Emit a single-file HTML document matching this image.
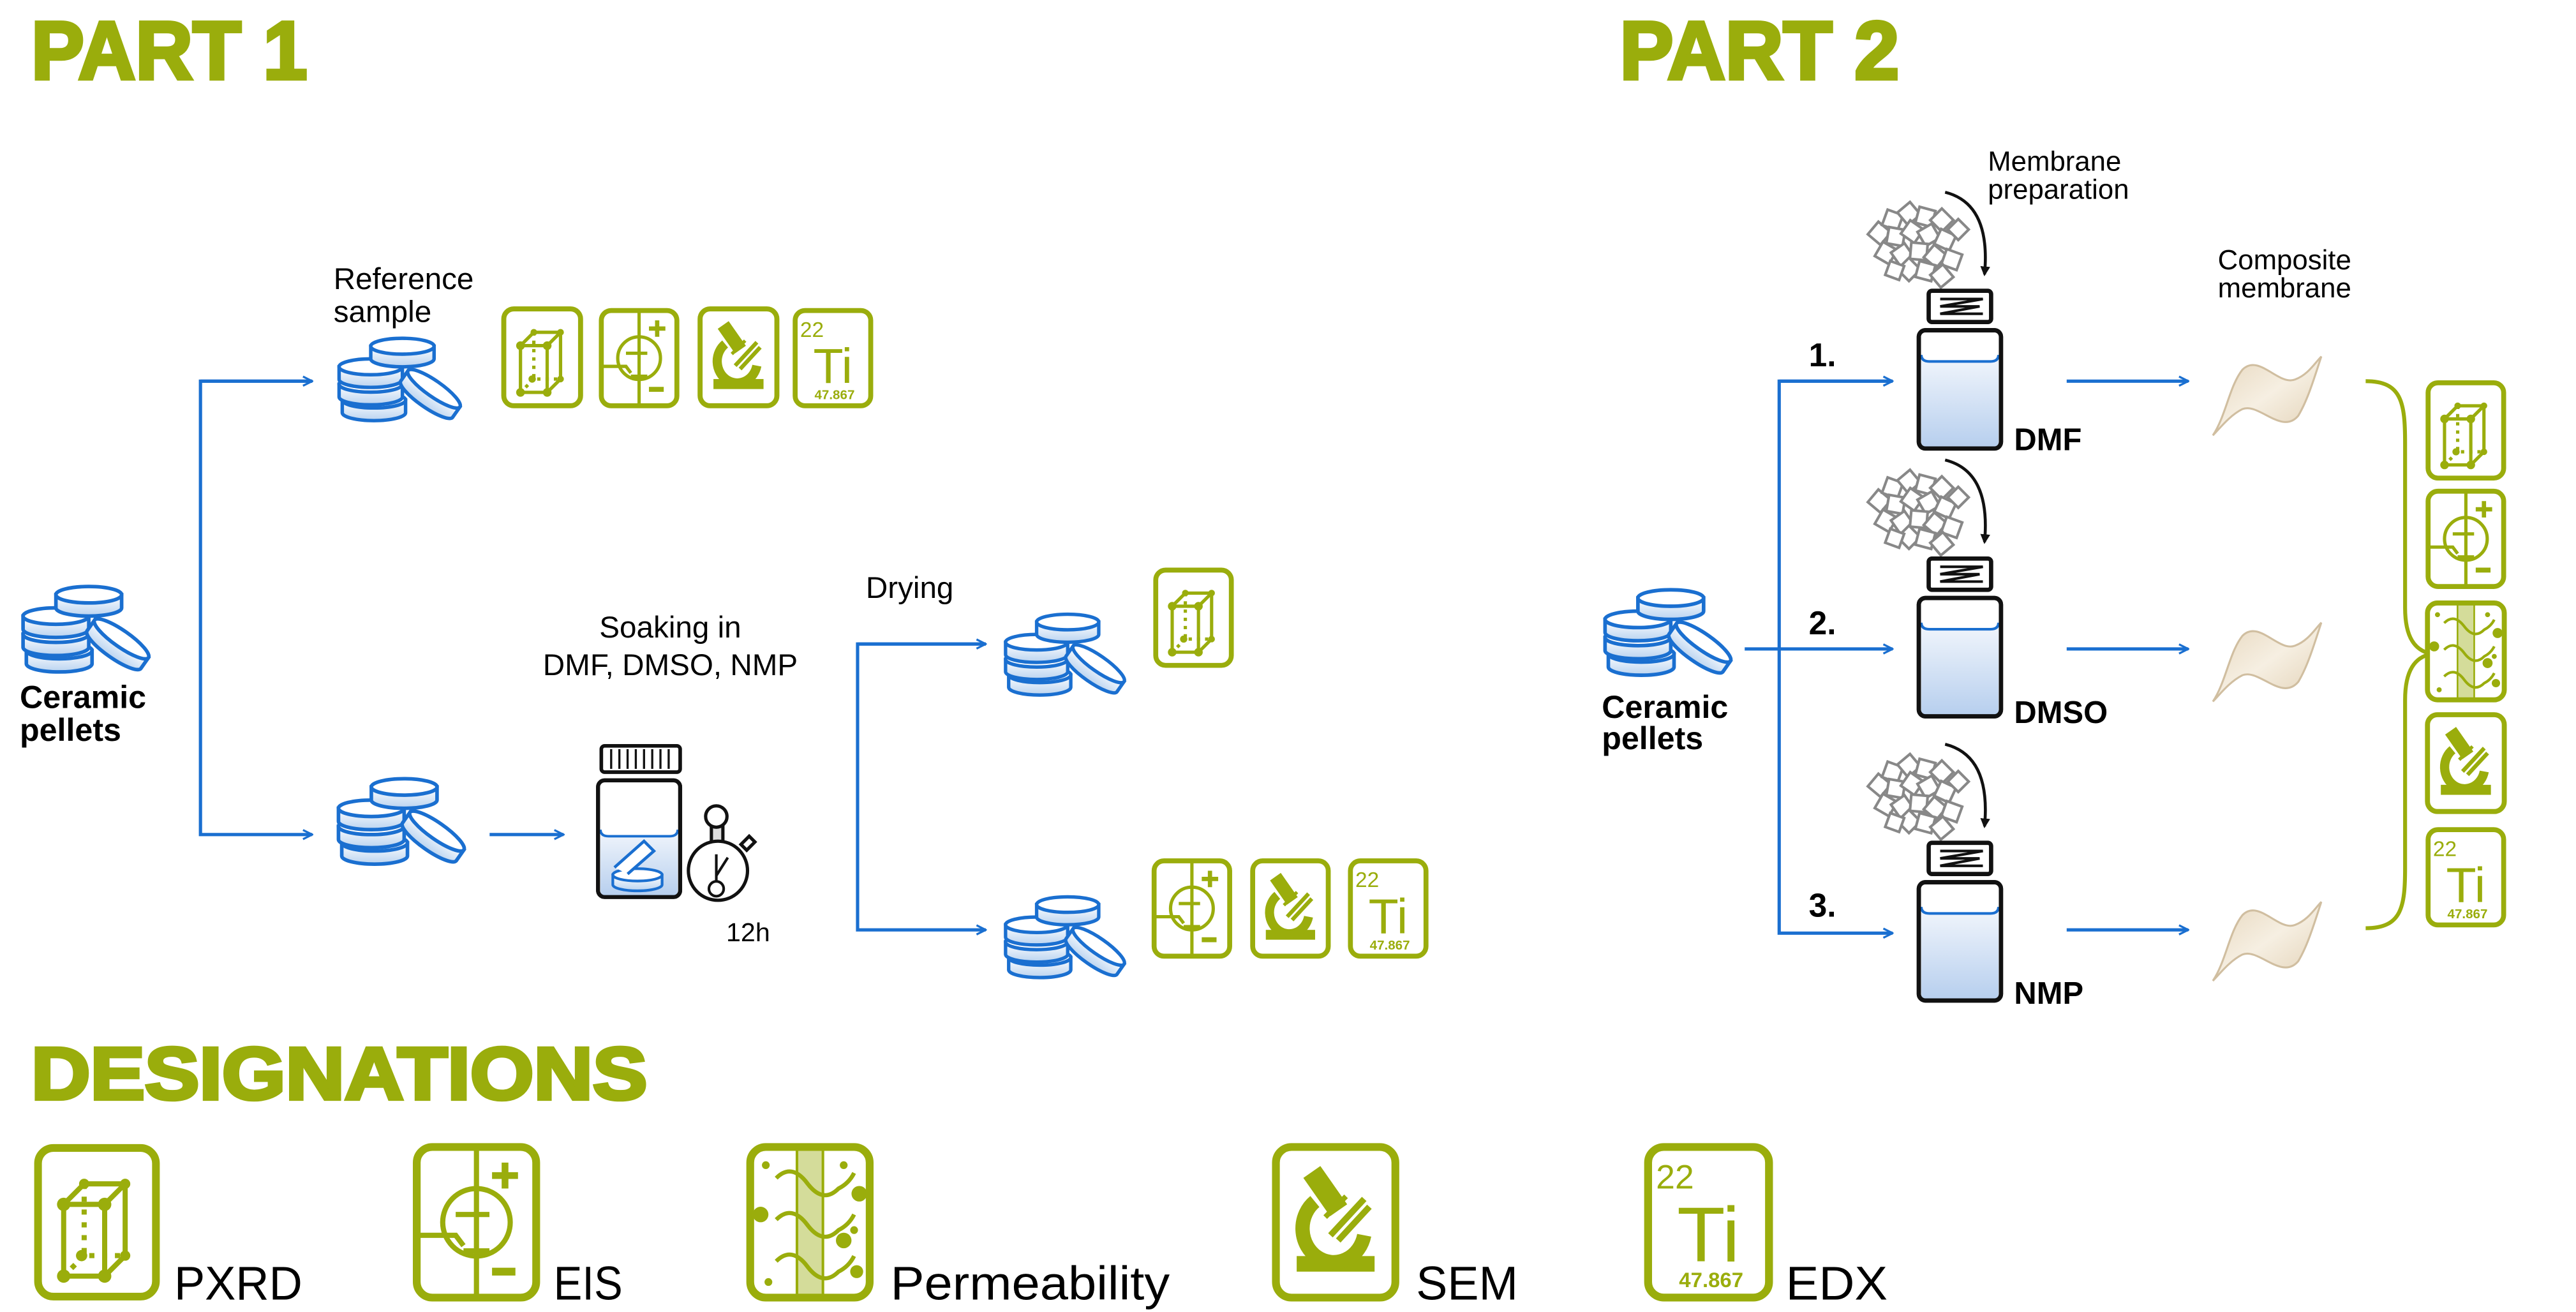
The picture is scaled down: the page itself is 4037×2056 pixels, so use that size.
<!DOCTYPE html>
<html><head><meta charset="utf-8"><style>
html,body{margin:0;padding:0;background:#fff;}
svg{display:block;}
text{font-family:"Liberation Sans",sans-serif;}
</style></head><body>
<svg width="4037" height="2056" viewBox="0 0 1568 798.6" xmlns="http://www.w3.org/2000/svg">
<defs>
<linearGradient id="bg" x1="0" y1="0" x2="0" y2="1"><stop offset="0" stop-color="#ffffff"/><stop offset="1" stop-color="#b9d3f0"/></linearGradient>
<linearGradient id="liq" x1="0" y1="0" x2="0" y2="1"><stop offset="0" stop-color="#f2f6fc"/><stop offset="1" stop-color="#b7cfee"/></linearGradient>
<linearGradient id="mem" x1="0" y1="0" x2="1" y2="1"><stop offset="0" stop-color="#e6d6bc"/><stop offset="0.5" stop-color="#f6efe2"/><stop offset="1" stop-color="#e2d1b5"/></linearGradient>
<marker id="ah" viewBox="0 0 10 10" refX="9" refY="5" markerWidth="7" markerHeight="7" orient="auto" markerUnits="userSpaceOnUse"><path d="M1,1 L9,5 L1,9" fill="none" stroke="#1a6fd0" stroke-width="1.8"/></marker>
<marker id="ahk" viewBox="0 0 10 10" refX="8" refY="5" markerWidth="6" markerHeight="6" orient="auto" markerUnits="userSpaceOnUse"><path d="M0,0 L10,5 L0,10 z" fill="#111"/></marker>
<symbol id="disk" viewBox="0 0 44 20" overflow="visible"><path d="M2,6 v8 a20,5 0 0 0 40,0 v-8 z" fill="url(#bg)" stroke="#1a6fd0" stroke-width="2.2"/><ellipse cx="22" cy="6" rx="20" ry="5" fill="#fff" stroke="#1a6fd0" stroke-width="2.2"/></symbol>
<symbol id="pel" viewBox="0 0 80 55" overflow="visible">
<use href="#disk" x="2" y="35" width="44" height="20"/>
<use href="#disk" x="0" y="25" width="44" height="20"/>
<use href="#disk" x="0" y="14" width="44" height="20"/>
<use href="#disk" x="20" y="1" width="44" height="20"/>
<g transform="rotate(35 58 36)"><use href="#disk" x="38" y="26" width="44" height="20"/></g>
</symbol>
<symbol id="frame" viewBox="0 0 50 62" overflow="visible"><rect x="2" y="2" width="46" height="58" rx="6" fill="#fff" stroke="#9aad0c" stroke-width="3"/></symbol>
<symbol id="pxrd" viewBox="0 0 50 62" overflow="visible"><use href="#frame" width="50" height="62"/>
<g stroke="#9aad0c" stroke-width="2" fill="none"><path d="M12,24 H28 V52 H12 Z M20,16 H36 V44 M12,24 L20,16 M28,24 L36,16 M28,52 L36,44"/><path d="M20,16 V44 H36 M20,44 L12,52" stroke-dasharray="2 3"/></g>
<g fill="#9aad0c"><circle cx="12" cy="24" r="2.6"/><circle cx="28" cy="24" r="2.6"/><circle cx="12" cy="52" r="2.6"/><circle cx="28" cy="52" r="2.6"/><circle cx="20" cy="16" r="2"/><circle cx="36" cy="16" r="2"/><circle cx="36" cy="44" r="2"/><circle cx="19" cy="44" r="2.2"/></g></symbol>
<symbol id="eis" viewBox="0 0 50 62" overflow="visible"><use href="#frame" width="50" height="62"/>
<g stroke="#9aad0c" stroke-width="2" fill="none"><line x1="25" y1="3" x2="25" y2="59"/><circle cx="25" cy="31" r="13"/><path d="M3,36 H17 L20,40"/><line x1="17" y1="28" x2="30" y2="28"/><line x1="20" y1="42" x2="30" y2="42"/><line x1="36" y1="8" x2="36" y2="18" stroke-width="2.6"/><line x1="31" y1="13" x2="41" y2="13" stroke-width="2.6"/><line x1="31" y1="50" x2="40" y2="50" stroke-width="3"/></g></symbol>
<symbol id="perm" viewBox="0 0 50 62" overflow="visible"><use href="#frame" width="50" height="62"/>
<rect x="20" y="3" width="10" height="56" fill="#d4dc9a" stroke="#9aad0c" stroke-width="1"/>
<g stroke="#9aad0c" stroke-width="1.6" fill="none"><path d="M12,14 q6,-6 12,2 t12,2 q4,-2 6,-6"/><path d="M12,30 q6,-6 12,2 t12,2 q4,-2 6,-6"/><path d="M12,46 q6,-6 12,2 t12,2 q4,-2 6,-6"/></g>
<g fill="#9aad0c"><circle cx="6" cy="28" r="3"/><circle cx="44" cy="20" r="3"/><circle cx="38" cy="38" r="3"/><circle cx="43" cy="50" r="2.5"/><circle cx="8" cy="9" r="1.5"/><circle cx="9" cy="54" r="1.5"/><circle cx="38" cy="9" r="1.5"/><circle cx="42" cy="34" r="1.5"/></g></symbol>
<symbol id="sem" viewBox="0 0 50 62" overflow="visible"><use href="#frame" width="50" height="62"/>
<g fill="#9aad0c"><rect x="10" y="44" width="30" height="6"/><rect x="17" y="10" width="8" height="18" transform="rotate(-35 21 19)"/></g>
<g stroke="#9aad0c" fill="none"><path d="M17,23 A12,13 0 1 0 36,36" stroke-width="5.5"/><line x1="23" y1="36" x2="36" y2="22" stroke-width="2.4"/><line x1="26" y1="38" x2="38" y2="25" stroke-width="2.4"/><line x1="21" y1="29" x2="29" y2="21" stroke-width="2"/></g></symbol>
<symbol id="gran" viewBox="0 0 70 50" overflow="visible"><g fill="#fff" stroke="#888" stroke-width="1.6">
<rect x="3" y="13" width="10" height="10" transform="rotate(40 8 18)"/><rect x="11" y="5" width="10" height="10" transform="rotate(20 16 10)"/><rect x="21" y="1" width="10" height="10" transform="rotate(50 26 6)"/><rect x="31" y="3" width="10" height="10" transform="rotate(15 36 8)"/><rect x="41" y="5" width="10" height="10" transform="rotate(45 46 10)"/>
<rect x="13" y="15" width="10" height="10" transform="rotate(10 18 20)"/><rect x="23" y="12" width="10" height="10" transform="rotate(35 28 17)"/><rect x="33" y="14" width="10" height="10" transform="rotate(60 38 19)"/><rect x="43" y="17" width="10" height="10" transform="rotate(25 48 22)"/><rect x="52" y="11" width="9" height="9" transform="rotate(45 56 15)"/>
<rect x="7" y="25" width="10" height="10" transform="rotate(30 12 30)"/><rect x="17" y="26" width="10" height="10" transform="rotate(55 22 31)"/><rect x="27" y="24" width="10" height="10" transform="rotate(5 32 29)"/><rect x="37" y="27" width="10" height="10" transform="rotate(40 42 32)"/><rect x="47" y="29" width="10" height="10" transform="rotate(20 52 34)"/>
<rect x="21" y="35" width="10" height="10" transform="rotate(45 26 40)"/><rect x="31" y="36" width="10" height="10" transform="rotate(15 36 41)"/><rect x="41" y="39" width="10" height="10" transform="rotate(50 46 44)"/><rect x="13" y="36" width="9" height="9" transform="rotate(20 17 40)"/></g></symbol>
<symbol id="jar2" viewBox="0 0 52 98" overflow="visible">
<rect x="7" y="0" width="38" height="19" rx="2" fill="#fff" stroke="#111" stroke-width="2.6"/>
<path d="M14,5 H40 L14,9.5 H38 L14,14 H40" fill="none" stroke="#111" stroke-width="1.6"/>
<rect x="1" y="24" width="50" height="72" rx="4" fill="#fff" stroke="#111" stroke-width="2.6"/>
<path d="M2.5,39 q0,4 5,4 h37 q5,0 5,-4 V92 q0,3 -3,3 H5.5 q-3,0 -3,-3 z" fill="url(#liq)"/>
<path d="M2.5,39 q0,4 5,4 h37 q5,0 5,-4" fill="none" stroke="#1a6fd0" stroke-width="1.6"/>
<rect x="1" y="24" width="50" height="72" rx="4" fill="none" stroke="#111" stroke-width="2.6"/></symbol>
<symbol id="memb" viewBox="0 0 70 55" overflow="visible"><path d="M2,52 C10,40 12,22 20,12 C30,2 42,22 52,18 C60,15 64,8 68,4 C64,16 60,30 54,40 C44,52 30,32 20,36 C12,40 6,48 2,52 Z" fill="url(#mem)" stroke="#d0bea0" stroke-width="1.2"/></symbol>
</defs>

<!-- Headers -->
<g fill="#9aad0c" stroke="#9aad0c" stroke-width="2.2" font-weight="bold" font-family="Liberation Sans,sans-serif">
<text x="19" y="48" font-size="50" textLength="168" lengthAdjust="spacingAndGlyphs">PART 1</text>
<text x="986" y="48" font-size="50" textLength="170" lengthAdjust="spacingAndGlyphs">PART 2</text>
<text x="19" y="669" font-size="45" textLength="375" lengthAdjust="spacingAndGlyphs">DESIGNATIONS</text>
</g>

<!-- PART 1 -->
<use href="#pel" x="12" y="355" width="80" height="55"/>
<text x="12" y="431" font-size="19.5" font-weight="bold">Ceramic</text>
<text x="12" y="451" font-size="19.5" font-weight="bold">pellets</text>
<g stroke="#1a6fd0" stroke-width="2" fill="none">
<path d="M190,232 H122 V508 H190" marker-end="url(#ah)"/>
<path d="M122,232 H190" marker-end="url(#ah)"/>
<path d="M298,508 H343" marker-end="url(#ah)"/>
<path d="M600,392 H522 V566 H600" marker-end="url(#ah)"/>
<path d="M522,392 H600" marker-end="url(#ah)"/>
</g>
<text x="203" y="176" font-size="18.5">Reference</text>
<text x="203" y="196" font-size="18.5">sample</text>
<use href="#pel" x="204" y="204" width="78" height="53"/>
<use href="#pxrd" x="304" y="186" width="52" height="63"/>
<use href="#eis" x="364" y="187" width="50" height="62"/>
<use href="#sem" x="424" y="186" width="51" height="63"/>
<g transform="translate(482,187)"><use href="#frame" width="50" height="62"/><text x="5" y="18" font-size="13" fill="#9aad0c">22</text><text x="13" y="46" font-size="30" fill="#9aad0c">Ti</text><text x="26" y="56" font-size="8" fill="#9aad0c" font-weight="bold" text-anchor="middle">47.867</text></g>
<use href="#pel" x="204" y="472" width="80" height="55"/>
<text x="408" y="388" font-size="18.5" text-anchor="middle">Soaking in</text>
<text x="408" y="411" font-size="18.5" text-anchor="middle">DMF, DMSO, NMP</text>
<!-- soaking jar -->
<rect x="366" y="454" width="48" height="16" rx="2" fill="#fff" stroke="#111" stroke-width="2.2"/>
<g stroke="#111" stroke-width="1.3"><line x1="372" y1="456" x2="372" y2="468"/><line x1="377" y1="456" x2="377" y2="468"/><line x1="382" y1="456" x2="382" y2="468"/><line x1="387" y1="456" x2="387" y2="468"/><line x1="392" y1="456" x2="392" y2="468"/><line x1="397" y1="456" x2="397" y2="468"/><line x1="402" y1="456" x2="402" y2="468"/><line x1="407" y1="456" x2="407" y2="468"/></g>
<rect x="364" y="475" width="50" height="71" rx="4" fill="#fff" stroke="#111" stroke-width="2.4"/>
<path d="M365.5,505 q0,4 5,4 h37 q5,0 5,-4 V542 q0,3 -3,3 H368.5 q-3,0 -3,-3 z" fill="url(#liq)"/>
<path d="M365.5,505 q0,4 5,4 h37 q5,0 5,-4" fill="none" stroke="#1a6fd0" stroke-width="1.5"/>
<rect x="364" y="475" width="50" height="71" rx="4" fill="none" stroke="#111" stroke-width="2.4"/>
<use href="#disk" x="370" y="528" width="36" height="15"/>
<path d="M374,528 L392,512 L398,518 L382,532" fill="#fff" stroke="#1a6fd0" stroke-width="1.8"/>
<!-- stopwatch -->
<g stroke="#111" stroke-width="2" fill="#fff"><rect x="433" y="501" width="7" height="12" fill="#ddd"/><circle cx="436" cy="497" r="6.5"/><path d="M451,514 l5,-5 3.5,3.5 -5,5z"/><circle cx="437" cy="530" r="18"/></g>
<g stroke="#111" stroke-width="1.6" fill="none"><circle cx="436" cy="541" r="4.5"/><line x1="436" y1="536" x2="436" y2="520"/><line x1="436" y1="533" x2="443" y2="522"/></g>
<text x="442" y="573" font-size="16">12h</text>
<text x="527" y="364" font-size="18.5">Drying</text>
<use href="#pel" x="610" y="372" width="76" height="52"/>
<use href="#pxrd" x="701" y="345" width="51" height="62"/>
<use href="#pel" x="610" y="544" width="76" height="52"/>
<use href="#eis" x="700" y="522" width="51" height="62"/>
<use href="#sem" x="760" y="522" width="51" height="62"/>
<g transform="translate(820,522)"><use href="#frame" width="50" height="62"/><text x="5" y="18" font-size="13" fill="#9aad0c">22</text><text x="13" y="46" font-size="30" fill="#9aad0c">Ti</text><text x="26" y="56" font-size="8" fill="#9aad0c" font-weight="bold" text-anchor="middle">47.867</text></g>

<!-- PART 2 -->
<use href="#pel" x="975" y="357" width="80" height="55"/>
<text x="975" y="437" font-size="19.5" font-weight="bold">Ceramic</text>
<text x="975" y="456" font-size="19.5" font-weight="bold">pellets</text>
<g stroke="#1a6fd0" stroke-width="2" fill="none">
<path d="M1152,232 H1083 V568 H1152" marker-end="url(#ah)"/>
<path d="M1083,232 H1152" marker-end="url(#ah)"/>
<path d="M1062,395 H1152" marker-end="url(#ah)"/>
<path d="M1258,232 H1332" marker-end="url(#ah)"/>
<path d="M1258,395 H1332" marker-end="url(#ah)"/>
<path d="M1258,566 H1332" marker-end="url(#ah)"/>
</g>
<text x="1101" y="223" font-size="20" font-weight="bold">1.</text>
<text x="1101" y="386" font-size="20" font-weight="bold">2.</text>
<text x="1101" y="558" font-size="20" font-weight="bold">3.</text>
<text x="1210" y="104" font-size="17">Membrane</text>
<text x="1210" y="121" font-size="17">preparation</text>
<text x="1350" y="164" font-size="17">Composite</text>
<text x="1350" y="181" font-size="17">membrane</text>
<g>
<use href="#gran" x="1136" y="124" width="70" height="50"/>
<use href="#jar2" x="1167" y="177" width="52" height="98"/>
<path d="M1184,117 Q1212,124 1208,167" fill="none" stroke="#111" stroke-width="1.8" marker-end="url(#ahk)"/>
<text x="1226" y="274" font-size="19" font-weight="bold">DMF</text>
<use href="#gran" x="1136" y="287" width="70" height="50"/>
<use href="#jar2" x="1167" y="340" width="52" height="98"/>
<path d="M1184,280 Q1212,287 1208,330" fill="none" stroke="#111" stroke-width="1.8" marker-end="url(#ahk)"/>
<text x="1226" y="440" font-size="19" font-weight="bold">DMSO</text>
<use href="#gran" x="1136" y="460" width="70" height="50"/>
<use href="#jar2" x="1167" y="513" width="52" height="98"/>
<path d="M1184,453 Q1212,460 1208,503" fill="none" stroke="#111" stroke-width="1.8" marker-end="url(#ahk)"/>
<text x="1226" y="611" font-size="19" font-weight="bold">NMP</text>
</g>
<use href="#memb" x="1345" y="213" width="70" height="55"/>
<use href="#memb" x="1345" y="375" width="70" height="55"/>
<use href="#memb" x="1345" y="545" width="70" height="55"/>
<path d="M1440,232 C1462,232 1464,245 1464,270 V370 C1464,388 1470,396 1480,398 C1470,400 1464,408 1464,426 V528 C1464,552 1462,565 1440,565" fill="none" stroke="#9aad0c" stroke-width="2.4"/>
<use href="#pxrd" x="1475" y="231" width="52" height="62"/>
<use href="#eis" x="1475" y="297" width="52" height="62"/>
<use href="#perm" x="1475" y="365" width="52" height="63"/>
<use href="#sem" x="1475" y="433" width="52" height="63"/>
<g transform="translate(1476,503)"><use href="#frame" width="50" height="62"/><text x="5" y="18" font-size="13" fill="#9aad0c">22</text><text x="13" y="46" font-size="30" fill="#9aad0c">Ti</text><text x="26" y="56" font-size="8" fill="#9aad0c" font-weight="bold" text-anchor="middle">47.867</text></g>

<!-- DESIGNATIONS -->
<use href="#pxrd" x="20" y="695" width="78" height="98"/>
<text x="106" y="791" font-size="29" font-family="DejaVu Sans,sans-serif" textLength="78" lengthAdjust="spacingAndGlyphs">PXRD</text>
<use href="#eis" x="250" y="695" width="80" height="98"/>
<text x="337" y="791" font-size="29" font-family="DejaVu Sans,sans-serif" textLength="42" lengthAdjust="spacingAndGlyphs">EIS</text>
<use href="#perm" x="453" y="695" width="80" height="98"/>
<text x="542" y="791" font-size="29" font-family="DejaVu Sans,sans-serif" textLength="170" lengthAdjust="spacingAndGlyphs">Permeability</text>
<use href="#sem" x="773" y="695" width="80" height="98"/>
<text x="862" y="791" font-size="29" font-family="DejaVu Sans,sans-serif" textLength="62" lengthAdjust="spacingAndGlyphs">SEM</text>
<g transform="translate(1000,695) scale(1.6,1.58)"><use href="#frame" width="50" height="62"/><text x="5" y="18" font-size="13" fill="#9aad0c">22</text><text x="13" y="46" font-size="30" fill="#9aad0c">Ti</text><text x="26" y="56" font-size="8" fill="#9aad0c" font-weight="bold" text-anchor="middle">47.867</text></g>
<text x="1087" y="791" font-size="29" font-family="DejaVu Sans,sans-serif" textLength="62" lengthAdjust="spacingAndGlyphs">EDX</text>
</svg>
</body></html>
